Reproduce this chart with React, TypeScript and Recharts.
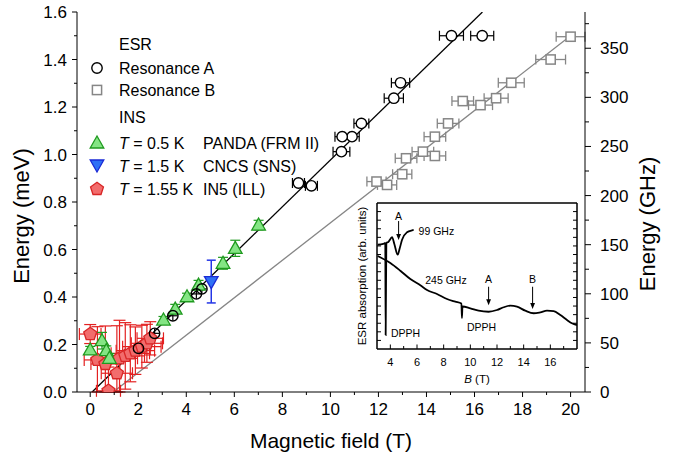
import React from 'react';
import {
  ComposedChart, Line, Scatter, XAxis, YAxis, ErrorBar, Legend, Label,
  ReferenceLine, ReferenceDot, ReferenceArea,
} from 'recharts';

const FONT = '"Liberation Sans", Arial, Helvetica, sans-serif';
const ink = '#000';
const grey = '#868686';

// ---------- main panel: axes ----------
const fieldTicks = [0, 1, 2, 3, 4, 5, 6, 7, 8, 9, 10, 11, 12, 13, 14, 15, 16, 17, 18, 19, 20];
const energyTicks = [0, 0.1, 0.2, 0.3, 0.4, 0.5, 0.6, 0.7, 0.8, 0.9, 1.0, 1.1, 1.2, 1.3, 1.4, 1.5, 1.6];
const ghzTicks = [0, 25, 50, 75, 100, 125, 150, 175, 200, 225, 250, 275, 300, 325, 350, 375];

// ---------- main panel: data (field T, energy meV, errors) ----------
const fitA = [{ b: 0.08, e: 0 }, { b: 16.33, e: 1.6 }];
const fitB = [{ b: 0.96, e: 0 }, { b: 20.0, e: 1.5 }];

const resonanceA = [
  { b: 16.32, e: 1.5, db: 0.48 },
  { b: 15.04, e: 1.5, db: 0.5 },
  { b: 12.92, e: 1.302, db: 0.38 },
  { b: 12.64, e: 1.237, db: 0.4 },
  { b: 11.29, e: 1.131, db: 0.31 },
  { b: 10.9, e: 1.075, db: 0.3 },
  { b: 10.49, e: 1.075, db: 0.3 },
  { b: 10.46, e: 1.012, db: 0.35 },
  { b: 9.21, e: 0.868, db: 0.25 },
  { b: 8.67, e: 0.88, db: 0.25 },
];
const resonanceALow = [
  { b: 4.65, e: 0.434, db: 0.2, de: 0.02 },
  { b: 4.42, e: 0.413, db: 0.2, de: 0.02 },
  { b: 3.44, e: 0.321, db: 0.2, de: 0.02 },
  { b: 2.68, e: 0.247, db: 0.2, de: 0.02 },
  { b: 2.01, e: 0.184, db: 0.2, de: 0.02 },
];
const resonanceB = [
  { b: 20.0, e: 1.496, db: 0.6 },
  { b: 19.17, e: 1.4, db: 0.62 },
  { b: 17.53, e: 1.302, db: 0.54 },
  { b: 16.9, e: 1.237, db: 0.5 },
  { b: 16.25, e: 1.208, db: 0.5 },
  { b: 15.51, e: 1.225, db: 0.45 },
  { b: 14.9, e: 1.131, db: 0.45 },
  { b: 14.35, e: 1.075, db: 0.45 },
  { b: 13.85, e: 1.012, db: 0.45 },
  { b: 14.35, e: 0.994, db: 0.45 },
  { b: 13.15, e: 0.984, db: 0.45 },
  { b: 12.99, e: 0.917, db: 0.4 },
  { b: 11.92, e: 0.886, db: 0.4 },
  { b: 12.36, e: 0.872, db: 0.4 },
];
const insPanda = [
  { b: 0.0, e: 0.177, de: 0.015 },
  { b: 0.49, e: 0.216, de: 0.035 },
  { b: 0.67, e: 0.174, de: 0.02 },
  { b: 0.8, e: 0.142, de: 0.02 },
  { b: 3.05, e: 0.303, de: 0.015 },
  { b: 3.54, e: 0.349, de: 0.02 },
  { b: 4.03, e: 0.401, de: 0.015 },
  { b: 4.51, e: 0.45, de: 0.02 },
  { b: 5.53, e: 0.542, de: 0.025 },
  { b: 6.04, e: 0.605, de: 0.034 },
  { b: 7.01, e: 0.703, de: 0.02 },
];
const insCncs = [{ b: 5.04, e: 0.465, de: 0.09 }];
// energy errors given as [down, up]; the lower arm stops at the axis as in the figure
const insIn5 = [
  { b: 0.0, e: 0.244, db: 0.45, de: [0.04, 0.04] },
  { b: 0.3, e: 0.135, db: 0.55, de: [0.135, 0.14] },
  { b: 0.63, e: 0.118, db: 0.6, de: [0.118, 0.16] },
  { b: 0.76, e: 0.005, db: 0.5, de: [0.005, 0.1] },
  { b: 1.11, e: 0.079, db: 0.65, de: [0.079, 0.2] },
  { b: 1.22, e: 0.142, db: 0.75, de: [0.142, 0.16] },
  { b: 1.46, e: 0.152, db: 0.8, de: [0.14, 0.14] },
  { b: 1.67, e: 0.163, db: 0.8, de: [0.12, 0.12] },
  { b: 1.88, e: 0.174, db: 0.8, de: [0.1, 0.1] },
  { b: 2.15, e: 0.191, db: 0.8, de: [0.09, 0.09] },
  { b: 2.36, e: 0.205, db: 0.65, de: [0.08, 0.08] },
  { b: 2.5, e: 0.226, db: 0.55, de: [0.07, 0.07] },
];

// ---------- inset: ESR spectra ----------
const insetFieldTicks = [4, 5, 6, 7, 8, 9, 10, 11, 12, 13, 14, 15, 16, 17];
const insetYTicks = [1, 2, 3, 4, 5, 6, 7, 8, 9, 10, 11, 12, 13, 14, 15, 16];
const esr99 = [
  { b: 3.05, v: 12.14 }, { b: 3.47, v: 12.23 }, { b: 3.62, v: 12.34 }, { b: 3.65, v: 1.63 },
  { b: 3.7, v: 12.34 }, { b: 3.85, v: 12.46 }, { b: 4.13, v: 13.01 }, { b: 4.3, v: 12.23 },
  { b: 4.55, v: 10.98 }, { b: 4.71, v: 11.76 }, { b: 4.88, v: 12.73 }, { b: 5.25, v: 13.59 },
  { b: 5.63, v: 13.82 }, { b: 5.75, v: 13.86 },
];
const esr245 = [
  { b: 3.05, v: 10.83 }, { b: 4.0, v: 10.01 }, { b: 4.75, v: 9.12 }, { b: 5.5, v: 8.15 },
  { b: 6.25, v: 7.42 }, { b: 6.75, v: 6.87 }, { b: 7.5, v: 6.4 }, { b: 8.25, v: 5.82 },
  { b: 8.87, v: 5.51 }, { b: 9.33, v: 5.3 }, { b: 9.37, v: 3.61 }, { b: 9.41, v: 4.95 },
  { b: 10.0, v: 4.74 }, { b: 10.62, v: 4.46 }, { b: 11.37, v: 4.34 }, { b: 12.0, v: 4.54 },
  { b: 12.5, v: 4.86 }, { b: 13.0, v: 5.04 }, { b: 13.5, v: 4.93 }, { b: 14.12, v: 4.46 },
  { b: 14.75, v: 4.16 }, { b: 15.25, v: 4.27 }, { b: 15.75, v: 4.46 }, { b: 16.25, v: 4.42 },
  { b: 16.75, v: 3.96 }, { b: 17.25, v: 3.38 }, { b: 17.62, v: 2.99 }, { b: 18.0, v: 2.79 },
];
const insetArrows = [
  { b: 4.62, from: 14.9, to: 12.7 },
  { b: 11.37, from: 7.25, to: 5.1 },
  { b: 14.67, from: 7.25, to: 4.66 },
];
const insetNotes = [
  { b: 4.62, v: 15.0, text: 'A', anchor: 'middle' },
  { b: 6.12, v: 13.27, text: '99 GHz', anchor: 'start' },
  { b: 6.62, v: 7.57, text: '245 GHz', anchor: 'start' },
  { b: 11.37, v: 7.63, text: 'A', anchor: 'middle' },
  { b: 14.67, v: 7.63, text: 'B', anchor: 'middle' },
  { b: 9.75, v: 2.1, text: 'DPPH', anchor: 'start' },
  { b: 4.05, v: 1.34, text: 'DPPH', anchor: 'start' },
];

// ---------- marker shapes ----------
const triUpPath = (cx: number, cy: number) =>
  `M${cx},${cy - 7} L${cx + 6.8},${cy + 5} L${cx - 6.8},${cy + 5} Z`;
const triDownPath = (cx: number, cy: number) =>
  `M${cx},${cy + 7} L${cx + 6.8},${cy - 5} L${cx - 6.8},${cy - 5} Z`;
const pentPath = (cx: number, cy: number) => {
  const r = 6.8;
  const pts = [0, 1, 2, 3, 4].map((k) => {
    const a = (-90 + k * 72) * Math.PI / 180;
    return `${cx + r * Math.cos(a)},${cy + r * Math.sin(a)}`;
  });
  return `M${pts.join(' L')} Z`;
};

const OpenCircle = (p: any) => <circle cx={p.cx} cy={p.cy} r={5.2} fill="#fff" stroke={ink} strokeWidth={1.4} />;
const CrossCircle = (p: any) => <circle cx={p.cx} cy={p.cy} r={5.2} fill="none" stroke={ink} strokeWidth={1.4} />;
const GreySquare = (p: any) => <rect x={p.cx - 4.6} y={p.cy - 4.6} width={9.2} height={9.2} fill="#fff" stroke={grey} strokeWidth={1.5} />;
const GreenTri = (p: any) => <path d={triUpPath(p.cx, p.cy)} fill="#84e584" stroke="#1f9a1f" strokeWidth={1.3} />;
const BlueTri = (p: any) => <path d={triDownPath(p.cx, p.cy)} fill="#2f70f5" stroke="#1a2ad6" strokeWidth={1.3} />;
const RedPent = (p: any) => <path d={pentPath(p.cx, p.cy)} fill="#f26c6c" stroke="#d82626" strokeWidth={1.3} />;

// ---------- tick renderers (tickSize 0, tickMargin 0 -> x/y sit on the axis line) ----------
const tickText = { fontFamily: FONT, fill: ink } as const;

const bottomTick = (p: any) => {
  const v = p.payload.value;
  const major = v % 2 === 0;
  return (
    <g>
      <line x1={p.x} y1={p.y} x2={p.x} y2={p.y + (major ? 5 : 3)} stroke={ink} />
      {major && <text x={p.x} y={p.y + 23} textAnchor="middle" fontSize={17} {...tickText}>{v}</text>}
    </g>
  );
};
const topTick = (p: any) => {
  const major = p.payload.value % 2 === 0;
  return <line x1={p.x} y1={p.y} x2={p.x} y2={p.y + (major ? 5 : 3)} stroke={ink} />;
};
const leftTick = (p: any) => {
  const v = p.payload.value;
  const major = Math.round(v * 10) % 2 === 0;
  return (
    <g>
      <line x1={p.x} y1={p.y} x2={p.x - (major ? 5 : 3)} y2={p.y} stroke={ink} />
      {major && <text x={p.x - 10} y={p.y + 6} textAnchor="end" fontSize={17} {...tickText}>{v.toFixed(1)}</text>}
    </g>
  );
};
const rightTick = (p: any) => {
  const v = p.payload.value;
  const major = v % 50 === 0;
  return (
    <g>
      <line x1={p.x} y1={p.y} x2={p.x + (major ? 6 : 4)} y2={p.y} stroke={ink} />
      {major && <text x={p.x + 15} y={p.y + 6} textAnchor="start" fontSize={17} {...tickText}>{v}</text>}
    </g>
  );
};

const insetBottomTick = (p: any) => {
  const v = p.payload.value;
  const major = v % 2 === 0;
  return (
    <g>
      <line x1={p.x} y1={p.y} x2={p.x} y2={p.y - (major ? 4.5 : 3)} stroke={ink} />
      {major && <text x={p.x} y={p.y + 17} textAnchor="middle" fontSize={11} {...tickText}>{v}</text>}
    </g>
  );
};
const insetTopTick = (p: any) => <line x1={p.x} y1={p.y} x2={p.x} y2={p.y + 4} stroke={ink} />;
const insetLeftTick = (p: any) => <line x1={p.x} y1={p.y} x2={p.x + 4} y2={p.y} stroke={ink} />;
const insetRightTick = (p: any) => <line x1={p.x} y1={p.y} x2={p.x - 4} y2={p.y} stroke={ink} />;

// ---------- axis titles ----------
const titleX = (p: any) => {
  const vb = p.viewBox;
  return <text x={vb.x + vb.width / 2} y={vb.y + 56} textAnchor="middle" fontSize={21} {...tickText}>Magnetic field (T)</text>;
};
const titleYLeft = () => {
  const cx = 22, cy = 216;
  return <text x={cx} y={cy} transform={`rotate(-90 ${cx} ${cy})`} dy={7} textAnchor="middle" fontSize={22} {...tickText}>Energy (meV)</text>;
};
const titleYRight = (p: any) => {
  const vb = p.viewBox;
  const cx = vb.x + 63, cy = 224;
  return <text x={cx} y={cy} transform={`rotate(-90 ${cx} ${cy})`} dy={7} textAnchor="middle" fontSize={22} {...tickText}>Energy (GHz)</text>;
};
const insetTitleX = (p: any) => {
  const vb = p.viewBox;
  return (
    <text x={vb.x + vb.width / 2} y={vb.y + 34} textAnchor="middle" fontSize={11.5} {...tickText}>
      <tspan fontStyle="italic">B</tspan> (T)
    </text>
  );
};
const insetTitleY = (p: any) => {
  const vb = p.viewBox;
  const cx = vb.x + vb.width - 15, cy = vb.y + vb.height / 2;
  return <text x={cx} y={cy} transform={`rotate(-90 ${cx} ${cy})`} dy={4} textAnchor="middle" fontSize={11.5} {...tickText}>ESR absorption (arb. units)</text>;
};

// ---------- inset annotations ----------
const Arrow = (p: any) => (
  <g>
    <line x1={p.x1} y1={p.y1} x2={p.x2} y2={p.y2 - 4} stroke={ink} strokeWidth={1} />
    <path d={`M${p.x2},${p.y2} L${p.x2 - 2.4},${p.y2 - 6} L${p.x2 + 2.4},${p.y2 - 6} Z`} fill={ink} />
  </g>
);

// ---------- legend ----------
const insRows = [
  { temp: ' = 0.5 K', site: 'PANDA (FRM II)' },
  { temp: ' = 1.5 K', site: 'CNCS (SNS)' },
  { temp: ' = 1.55 K', site: 'IN5 (ILL)' },
];

const LegendBox = () => {
  const mx = 97;
  const tx = 119;
  const sx = 203;
  const t = { fontFamily: FONT, fontSize: 16, fill: ink, style: { whiteSpace: 'pre' as const } };
  const rowY = [149, 172, 195];
  return (
    <svg width={330} height={205} style={{ display: 'block' }}>
      <text x={tx} y={50} {...t}>ESR</text>
      <circle cx={mx} cy={68} r={5.2} fill="#fff" stroke={ink} strokeWidth={1.4} />
      <text x={tx} y={74} {...t}>Resonance A</text>
      <rect x={mx - 4.6} y={90 - 4.6} width={9.2} height={9.2} fill="#fff" stroke={grey} strokeWidth={1.5} />
      <text x={tx} y={96} {...t}>Resonance B</text>
      <text x={tx} y={123} {...t}>INS</text>
      <path d={triUpPath(mx, 143)} fill="#84e584" stroke="#1f9a1f" strokeWidth={1.3} />
      <path d={triDownPath(mx, 165)} fill="#2f70f5" stroke="#1a2ad6" strokeWidth={1.3} />
      <path d={pentPath(mx, 189)} fill="#f26c6c" stroke="#d82626" strokeWidth={1.3} />
      {insRows.map((r, i) => (
        <g key={r.site}>
          <text x={tx} y={rowY[i]} {...t}><tspan fontStyle="italic">T</tspan>{r.temp}</text>
          <text x={sx} y={rowY[i]} {...t}>{r.site}</text>
        </g>
      ))}
    </svg>
  );
};

const axisLine = { stroke: ink, strokeWidth: 1 };

export default function App() {
  return (
    <div style={{ position: 'absolute', left: 0, top: 0, width: 681, height: 461, background: '#fff' }}>
      <ComposedChart width={681} height={461} margin={{ top: 12, right: 0, bottom: 0, left: 0 }}>
        <XAxis xAxisId="b" type="number" dataKey="b" domain={[-0.55, 20.6]} ticks={fieldTicks} interval={0}
          allowDataOverflow height={69} tickSize={0} tickMargin={0} tick={bottomTick} axisLine={axisLine}>
          <Label content={titleX} />
        </XAxis>
        <XAxis xAxisId="top" orientation="top" type="number" domain={[-0.55, 20.6]} ticks={fieldTicks} interval={0}
          allowDataOverflow height={0} tickSize={0} tickMargin={0} tick={topTick} axisLine={axisLine} />
        <YAxis yAxisId="e" type="number" dataKey="e" domain={[0, 1.6]} ticks={energyTicks} interval={0}
          allowDataOverflow width={77} tickSize={0} tickMargin={0} tick={leftTick} axisLine={axisLine}>
          <Label content={titleYLeft} />
        </YAxis>
        <YAxis yAxisId="ghz" orientation="right" type="number" domain={[0, 386.9]} ticks={ghzTicks} interval={0}
          allowDataOverflow width={96} tickSize={0} tickMargin={0} tick={rightTick} axisLine={axisLine}>
          <Label content={titleYRight} />
        </YAxis>

        <Line data={fitB} xAxisId="b" yAxisId="e" dataKey="e" stroke={grey} strokeWidth={1.3} dot={false} isAnimationActive={false} />
        <Line data={fitA} xAxisId="b" yAxisId="e" dataKey="e" stroke={ink} strokeWidth={1.3} dot={false} isAnimationActive={false} />

        <Scatter data={insIn5} xAxisId="b" yAxisId="e" shape={RedPent} isAnimationActive={false}>
          <ErrorBar dataKey="db" direction="x" width={6} stroke="#e32020" strokeWidth={1.2} />
          <ErrorBar dataKey="de" direction="y" width={6} stroke="#e32020" strokeWidth={1.2} />
        </Scatter>
        <Scatter data={insCncs} xAxisId="b" yAxisId="e" shape={BlueTri} isAnimationActive={false}>
          <ErrorBar dataKey="de" direction="y" width={4.5} stroke="#2436e6" strokeWidth={1.5} />
        </Scatter>
        <Scatter data={insPanda} xAxisId="b" yAxisId="e" shape={GreenTri} isAnimationActive={false}>
          <ErrorBar dataKey="de" direction="y" width={5} stroke="#1f9a1f" strokeWidth={1.2} />
        </Scatter>
        <Scatter data={resonanceB} xAxisId="b" yAxisId="e" shape={GreySquare} isAnimationActive={false}>
          <ErrorBar dataKey="db" direction="x" width={5} stroke={grey} strokeWidth={1.3} />
        </Scatter>
        <Scatter data={resonanceA} xAxisId="b" yAxisId="e" shape={OpenCircle} isAnimationActive={false}>
          <ErrorBar dataKey="db" direction="x" width={5} stroke={ink} strokeWidth={1.2} />
        </Scatter>
        <Scatter data={resonanceALow} xAxisId="b" yAxisId="e" shape={CrossCircle} isAnimationActive={false}>
          <ErrorBar dataKey="db" direction="x" width={0} stroke={ink} strokeWidth={1.2} />
          <ErrorBar dataKey="de" direction="y" width={0} stroke={ink} strokeWidth={1.2} />
        </Scatter>

        <Legend layout="vertical" align="center" verticalAlign="middle" content={LegendBox}
          wrapperStyle={{ left: 0, top: 0, width: 330, height: 205 }} />
      </ComposedChart>

      <div style={{ position: 'absolute', left: 330, top: 195 }}>
        <ComposedChart width={270} height={200} margin={{ top: 7, right: 22, bottom: 0, left: 0 }}>
          <XAxis xAxisId="ib" type="number" dataKey="b" domain={[3, 18]} ticks={insetFieldTicks} interval={0}
            allowDataOverflow height={46} tickSize={0} tickMargin={0} tick={insetBottomTick} axisLine={axisLine}>
            <Label content={insetTitleX} />
          </XAxis>
          <XAxis xAxisId="it" orientation="top" type="number" domain={[3, 18]} ticks={insetFieldTicks} interval={0}
            allowDataOverflow height={1} tickSize={0} tickMargin={0} tick={insetTopTick} axisLine={axisLine} />
          <YAxis yAxisId="iv" type="number" dataKey="v" domain={[0, 17]} ticks={insetYTicks} interval={0}
            allowDataOverflow width={47} tickSize={0} tickMargin={0} tick={insetLeftTick} axisLine={axisLine}>
            <Label content={insetTitleY} />
          </YAxis>
          <YAxis yAxisId="ir" orientation="right" type="number" domain={[0, 17]} ticks={insetYTicks} interval={0}
            allowDataOverflow width={1} tickSize={0} tickMargin={0} tick={insetRightTick} axisLine={axisLine} />

          <ReferenceArea xAxisId="ib" yAxisId="iv" x1={3} x2={18} y1={0} y2={17} fill="none" stroke={ink}
            strokeWidth={1} ifOverflow="visible" />

          <Line data={esr99} xAxisId="ib" yAxisId="iv" dataKey="v" type="monotone" stroke={ink} strokeWidth={1.8}
            dot={false} isAnimationActive={false} />
          <Line data={esr245} xAxisId="ib" yAxisId="iv" dataKey="v" type="monotone" stroke={ink} strokeWidth={1.8}
            dot={false} isAnimationActive={false} />

          {insetArrows.map((a, i) => (
            <ReferenceLine key={`ar${i}`} xAxisId="ib" yAxisId="iv" ifOverflow="visible"
              segment={[{ x: a.b, y: a.from }, { x: a.b, y: a.to }]} shape={Arrow} />
          ))}
          {insetNotes.map((n, i) => (
            <ReferenceDot key={`nt${i}`} xAxisId="ib" yAxisId="iv" x={n.b} y={n.v} r={0} ifOverflow="visible"
              shape={(p: any) => (
                <text x={p.cx} y={p.cy} textAnchor={n.anchor as any} fontSize={10.5} fontFamily={FONT} fill={ink}>{n.text}</text>
              )} />
          ))}
        </ComposedChart>
      </div>
    </div>
  );
}
